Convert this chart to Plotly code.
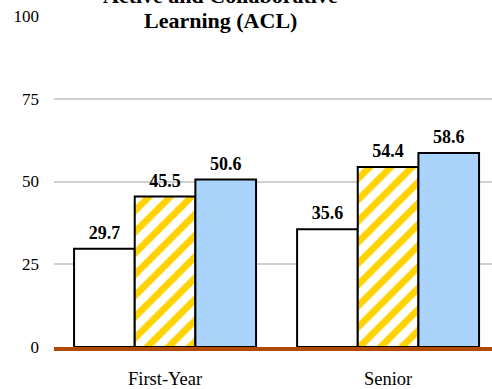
import plotly.graph_objects as go

categories = ["First-Year", "Senior"]
series_a = [29.7, 35.6]
series_b = [45.5, 54.4]
series_c = [50.6, 58.6]
y_ticks = [0, 25, 50, 75, 100]

SERIF = "Liberation Serif"
OUTLINE = dict(color="#000000", width=2)

fills = [
    dict(color="#FFFFFF", line=OUTLINE),
    dict(color="#FFFFFF", line=OUTLINE,
         pattern=dict(shape="/", fgcolor="#FFD200", bgcolor="#FFFFFF",
                      fgopacity=1, size=15, solidity=0.45, fillmode="replace")),
    dict(color="#AAD4FC", line=OUTLINE),
]

fig = go.Figure()
for values, marker in zip([series_a, series_b, series_c], fills):
    fig.add_trace(go.Bar(x=categories, y=values, marker=marker))

# value labels, grouped the same way as the bars; the invisible marker
# lifts each label a little above its bar
for values in [series_a, series_b, series_c]:
    fig.add_trace(go.Scatter(
        x=categories, y=values, mode="markers+text",
        text=[f"{v:.1f}" for v in values],
        textposition="top center", cliponaxis=False,
        marker=dict(size=7, color="rgba(0,0,0,0)"),
        hoverinfo="skip",
        textfont=dict(family=SERIF, size=18, color="#000000", weight="bold"),
    ))

fig.add_annotation(
    text="<b>Active and Collaborative</b>",
    xref="paper", yref="paper", x=0.381, y=1.0, yshift=6,
    xanchor="center", yanchor="bottom", showarrow=False,
    font=dict(family=SERIF, size=22, color="#000000"),
)
fig.add_annotation(
    text="<b>Learning (ACL)</b>",
    xref="paper", yref="paper", x=0.381, y=1.0, yshift=-19,
    xanchor="center", yanchor="bottom", showarrow=False,
    font=dict(family=SERIF, size=22, color="#000000"),
)

fig.update_layout(
    width=492, height=389,
    margin=dict(l=54, r=0, t=16, b=38),
    paper_bgcolor="#FFFFFF", plot_bgcolor="#FFFFFF",
    barmode="group", bargap=0.184, bargroupgap=0,
    scattermode="group", scattergap=0.184,
    showlegend=False,
    font=dict(family=SERIF, color="#000000"),
)
fig.update_xaxes(
    range=[-0.498, 1.466],
    showgrid=False, showline=True, linecolor="#B04A00", linewidth=4,
    layer="above traces", ticks="", ticklabelstandoff=12,
    tickfont=dict(family=SERIF, size=18.5, color="#000000"),
)
fig.update_yaxes(
    range=[0, 100], tickvals=y_ticks,
    showgrid=True, gridcolor="#D0D0D0", gridwidth=2,
    zeroline=False, showline=False, ticks="", ticklabelstandoff=14,
    tickfont=dict(family=SERIF, size=17, color="#000000"),
)

fig.write_html("out.html")
